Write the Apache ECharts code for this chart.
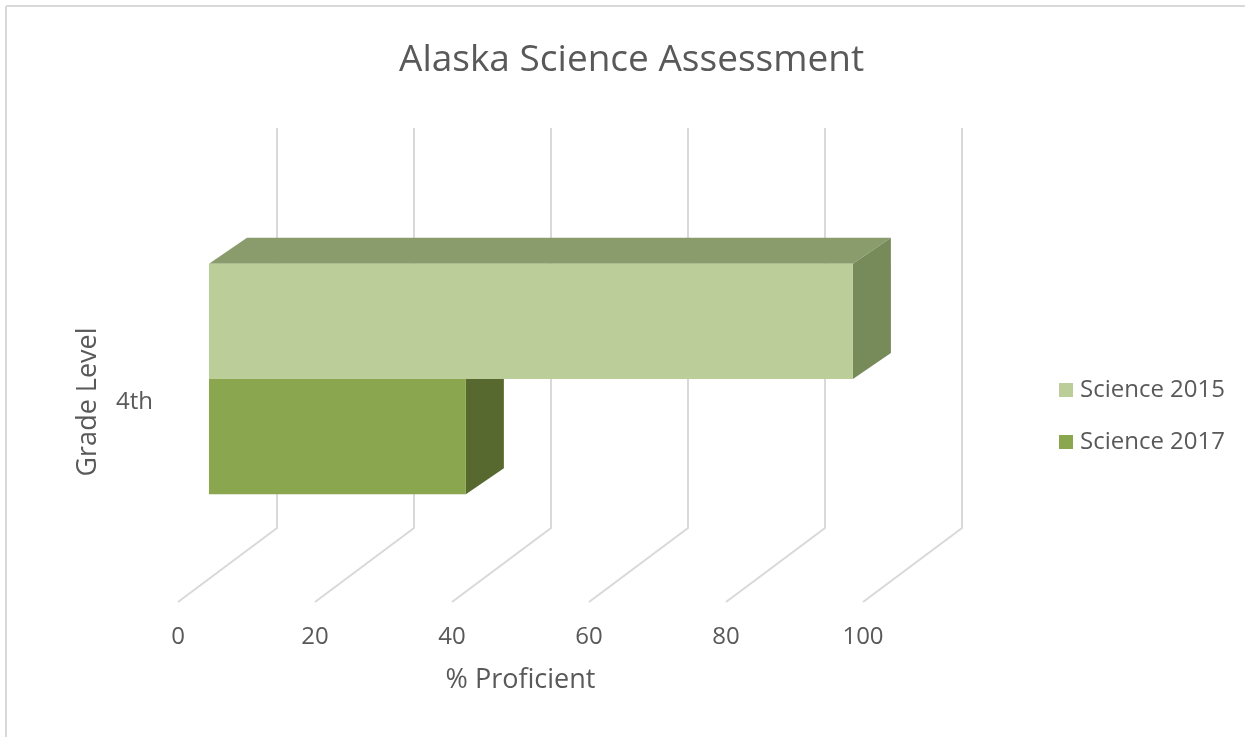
<!DOCTYPE html>
<html>
<head>
<meta charset="utf-8">
<script src="https://cdn.jsdelivr.net/npm/echarts@6/dist/echarts.min.js"></script>
<style>html,body{margin:0;padding:0;background:#fff;}#c{width:1245px;height:737px;}</style>
</head>
<body>
<div id="c"></div>
<script>
// ---- data ----
const categories = ['4th'];
const seriesNames = ['Science 2015', 'Science 2017'];
const science2015 = [94];
const science2017 = [37.5];
const xTicks = [0, 20, 40, 60, 80, 100];

// ---- style ----
const FONT = '"Open Sans", "Noto Sans", sans-serif';
const TXT = '#595959';
const GRID_COLOR = '#D9D9D9';
const DEPTH = [99, -74];          // full wall depth vector (px)
const BAR_FRONT = [31, -23];      // bar front face offset
const BAR_BACK = [69, -49];       // bar back face offset
const BAR_RATIO = 0.288;          // bar thickness as share of band
const palette = {
  'Science 2015': {front: '#BBCD98', top: '#8A9C6C', side: '#778A5A'},
  'Science 2017': {front: '#8AA64F', top: '#6E8840', side: '#57692E'}
};

const chart = echarts.init(document.getElementById('c'));

function barRenderer(name, slot) {
  const col = palette[name];
  return function (params, api) {
    const cat = api.value(1);
    const val = api.value(0);
    const p0 = api.coord([0, cat]);
    const p1 = api.coord([val, cat]);
    const band = api.size([0, 1])[1];
    const h = band * BAR_RATIO;
    const yc = p0[1];
    const yTop = (slot === 0 ? yc - h : yc) + BAR_FRONT[1];
    const yBot = yTop + h;
    const x0 = p0[0] + BAR_FRONT[0];
    const x1 = p1[0] + BAR_FRONT[0];
    const dx = BAR_BACK[0] - BAR_FRONT[0];
    const dy = BAR_BACK[1] - BAR_FRONT[1];
    return {
      type: 'group',
      children: [
        {type: 'polygon', shape: {points: [[x0, yTop], [x1, yTop], [x1 + dx, yTop + dy], [x0 + dx, yTop + dy]]}, style: {fill: col.top}},
        {type: 'polygon', shape: {points: [[x1, yTop], [x1 + dx, yTop + dy], [x1 + dx, yBot + dy], [x1, yBot]]}, style: {fill: col.side}},
        {type: 'rect', shape: {x: x0, y: yTop, width: x1 - x0, height: h}, style: {fill: col.front}}
      ]
    };
  };
}

const option = {
  backgroundColor: '#fff',
  animation: false,
  title: {
    text: 'Alaska Science Assessment',
    left: 399, top: 42, padding: 0,
    textStyle: {fontFamily: FONT, fontSize: 37, fontWeight: 'normal', color: TXT}
  },
  legend: {
    orient: 'vertical', left: 1054, top: 373,
    itemWidth: 14, itemHeight: 14, itemGap: 28,
    icon: 'rect',
    data: seriesNames,
    textStyle: {fontFamily: FONT, fontSize: 24, color: TXT, padding: [0, 0, 0, 2]}
  },
  graphic: [
    {type: 'line', shape: {x1: 6, y1: 6, x2: 1245, y2: 6}, style: {stroke: GRID_COLOR, lineWidth: 2}},
    {type: 'line', shape: {x1: 6, y1: 6, x2: 6, y2: 737}, style: {stroke: GRID_COLOR, lineWidth: 2}}
  ],
  grid: {left: 178, top: 202, width: 685, height: 400},
  xAxis: {
    type: 'value', min: 0, max: 100, interval: 20,
    name: '% Proficient', nameLocation: 'middle', nameGap: 65,
    nameTextStyle: {fontFamily: FONT, fontSize: 27, color: TXT},
    axisLine: {show: false}, axisTick: {show: false}, splitLine: {show: false},
    axisLabel: {margin: 23, fontFamily: FONT, fontSize: 24, color: TXT}
  },
  yAxis: {
    type: 'category', data: categories,
    name: 'Grade Level', nameLocation: 'middle', nameGap: 76, nameRotate: 90,
    nameTextStyle: {fontFamily: FONT, fontSize: 27, color: TXT},
    axisLine: {show: false}, axisTick: {show: false}, splitLine: {show: false},
    axisLabel: {margin: 25, fontFamily: FONT, fontSize: 24, color: TXT}
  },
  series: [
    {
      type: 'custom', name: '__grid', silent: true, z: 1, clip: false,
      data: xTicks.map(v => [v, 0]),
      encode: {x: 0, y: 1},
      renderItem: function (params, api) {
        const cs = params.coordSys;
        const x = api.coord([api.value(0), 0])[0];
        const yB = cs.y + cs.height;
        return {
          type: 'polyline',
          shape: {points: [[x, yB], [x + DEPTH[0], yB + DEPTH[1]], [x + DEPTH[0], cs.y + DEPTH[1]]]},
          style: {stroke: GRID_COLOR, lineWidth: 2, fill: null}
        };
      }
    },
    {
      type: 'custom', name: seriesNames[1], z: 2, clip: false,
      itemStyle: {color: palette[seriesNames[1]].front},
      data: science2017.map((v, i) => [v, i]),
      encode: {x: 0, y: 1},
      renderItem: barRenderer(seriesNames[1], 1)
    },
    {
      type: 'custom', name: seriesNames[0], z: 3, clip: false,
      itemStyle: {color: palette[seriesNames[0]].front},
      data: science2015.map((v, i) => [v, i]),
      encode: {x: 0, y: 1},
      renderItem: barRenderer(seriesNames[0], 0)
    }
  ]
};
chart.setOption(option);
</script>
</body>
</html>
